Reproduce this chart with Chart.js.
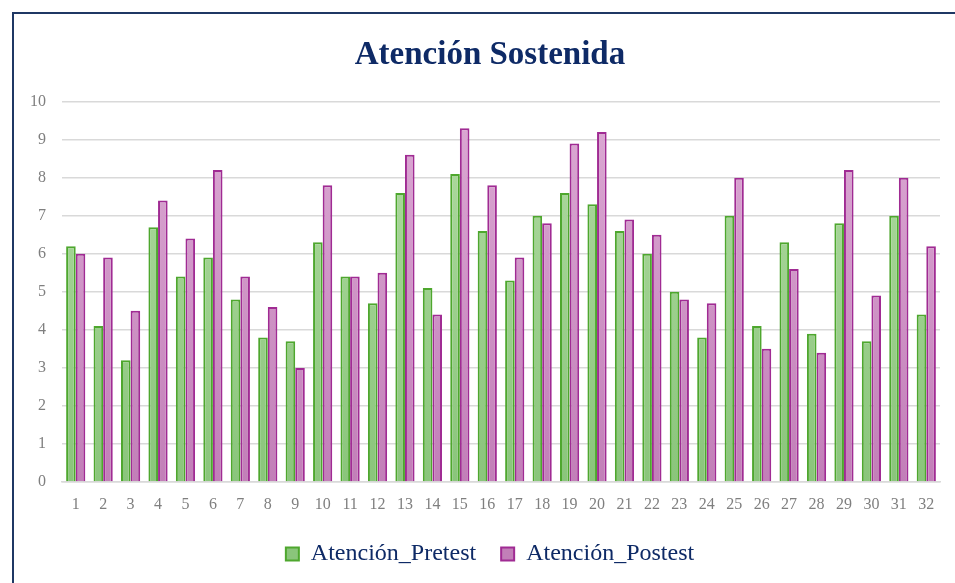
<!DOCTYPE html>
<html>
<head>
<meta charset="utf-8">
<script src="https://cdn.jsdelivr.net/npm/chart.js@4/dist/chart.umd.min.js"></script>
<style>
  html, body { margin: 0; padding: 0; background: #fff; overflow: hidden; }
  #box {
    position: absolute; left: 12px; top: 12px;
    width: 952px; height: 590px;
    border: 2px solid #1f3864;
  }
  #box canvas { display: block; }
</style>
</head>
<body>
<div id="box"><canvas id="chart" width="952" height="590"></canvas></div>
<script>
const categories = ["1","2","3","4","5","6","7","8","9","10","11","12","13","14","15","16",
  "17","18","19","20","21","22","23","24","25","26","27","28","29","30","31","32"];
const pretest = [6.2, 4.1, 3.2, 6.7, 5.4, 5.9, 4.8, 3.8, 3.7, 6.3, 5.4, 4.7, 7.6, 5.1, 8.1, 6.6,
  5.3, 7.0, 7.6, 7.3, 6.6, 6.0, 5.0, 3.8, 7.0, 4.1, 6.3, 3.9, 6.8, 3.7, 7.0, 4.4];
const postest = [6.0, 5.9, 4.5, 7.4, 6.4, 8.2, 5.4, 4.6, 3.0, 7.8, 5.4, 5.5, 8.6, 4.4, 9.3, 7.8,
  5.9, 6.8, 8.9, 9.2, 6.9, 6.5, 4.8, 4.7, 8.0, 3.5, 5.6, 3.4, 8.2, 4.9, 8.0, 6.2];
const yTicks = [0, 1, 2, 3, 4, 5, 6, 7, 8, 9, 10];

const serif = "'Liberation Serif', 'Times New Roman', serif";
const navy = "#0e2a66";

function gradient(top, bottom) {
  return function (context) {
    const area = context.chart.chartArea;
    if (!area) return bottom;
    const g = context.chart.ctx.createLinearGradient(0, area.top, 0, area.bottom);
    g.addColorStop(0, top);
    g.addColorStop(1, bottom);
    return g;
  };
}

new Chart(document.getElementById("chart"), {
  type: "bar",
  data: {
    labels: categories,
    datasets: [
      {
        label: "Atención_Pretest",
        data: pretest,
        backgroundColor: gradient("#b1dba2", "#8ac57b"),
        borderColor: "#4ea72e",
        borderWidth: 2,
        borderSkipped: "bottom"
      },
      {
        label: "Atención_Postest",
        data: postest,
        backgroundColor: gradient("#dcaad4", "#c27fb8"),
        borderColor: "#a02b93",
        borderWidth: 2,
        borderSkipped: "bottom"
      }
    ]
  },
  options: {
    responsive: false,
    animation: false,
    layout: { padding: { left: 0, right: 0, top: 0, bottom: 28 } },
    datasets: { bar: { categoryPercentage: 0.7, barPercentage: 1.0 } },
    scales: {
      x: {
        grid: { display: false },
        border: { color: "#d9d9d9", width: 1.5 },
        ticks: { color: "#7f7f7f", font: { family: serif, size: 16 }, maxRotation: 0, autoSkip: false, padding: 5 },
        afterFit: (s) => { s.height = 35; }
      },
      y: {
        min: 0,
        max: 10,
        afterBuildTicks: (axis) => { axis.ticks = yTicks.map(v => ({ value: v })); },
        grid: { color: "#d9d9d9", lineWidth: 1.5, drawTicks: false },
        border: { display: false },
        ticks: { color: "#7f7f7f", font: { family: serif, size: 16 }, padding: 16 },
        afterFit: (s) => { s.width = 48; }
      },
      pad: {
        position: "right",
        display: true,
        grid: { display: false },
        border: { display: false },
        ticks: { display: false },
        afterFit: (s) => { s.width = 26; }
      }
    },
    plugins: {
      title: {
        display: true,
        text: "Atención Sostenida",
        color: navy,
        font: { family: serif, size: 33, weight: "bold" },
        padding: { top: 22, bottom: 26 }
      },
      legend: {
        position: "bottom",
        labels: {
          color: navy,
          font: { family: serif, size: 24 },
          boxWidth: 13,
          boxHeight: 13,
          padding: 25
        }
      },
      tooltip: { enabled: false }
    }
  }
});
</script>
</body>
</html>
